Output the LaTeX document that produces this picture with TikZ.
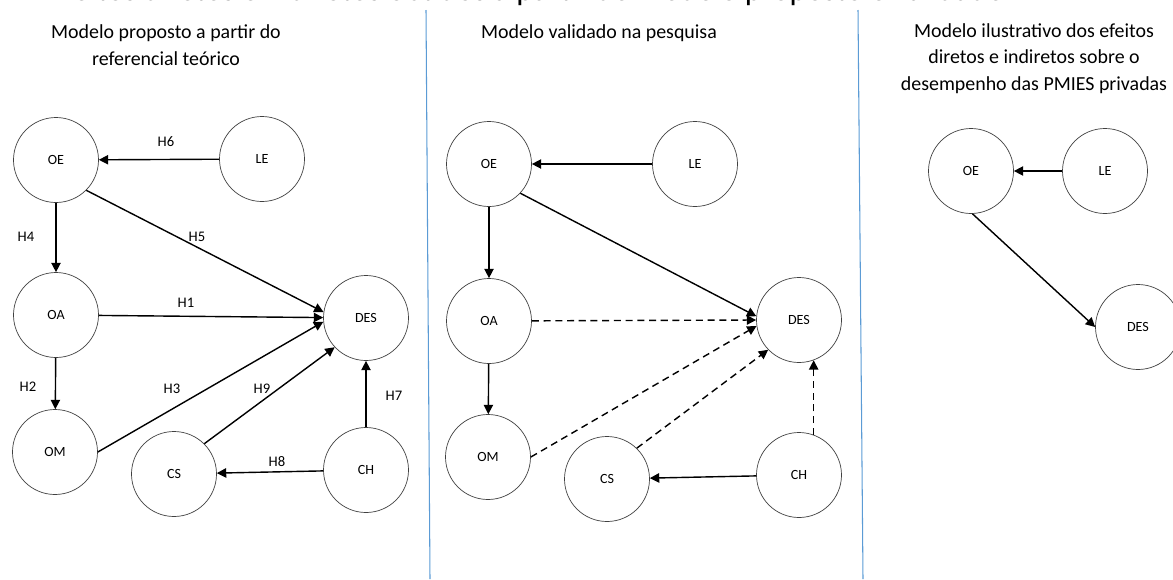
\documentclass[tikz,border=0pt]{standalone}
\usepackage{fontspec}
\setmainfont{Carlito}
\usetikzlibrary{arrows.meta}
\definecolor{sepblue}{HTML}{5B9BD5}

\begin{document}
\begin{tikzpicture}[x=0.03cm,y=-0.03cm,
    var/.style={circle,draw=black!75,line width=0.6pt,minimum size=2.55cm,inner sep=0pt,font=\fontsize{12}{14}\selectfont},
    hyp/.style={line width=1.2pt,-{Triangle[length=8pt,width=8pt]}},
    hypdash/.style={hyp,dash pattern=on 6pt off 4pt},
    hlabel/.style={font=\fontsize{12.5}{14}\selectfont},
    paneltitle/.style={align=center,anchor=base,inner sep=0pt,font=\fontsize{17}{22.2}\selectfont},
    separator/.style={draw=sepblue,line width=0.9pt}]
        \useasboundingbox (0,0) rectangle (1173,579);
        \node[anchor=base,inner sep=0pt,font=\fontsize{27.5}{32}\selectfont] (maintitle) at (527,0.5) {Efeitos diretos e indiretos obtidos a partir do modelo proposto e validado};
        \coordinate (sepa top) at (426,10);
        \coordinate (sepa bot) at (430,579);
        \coordinate (sepb top) at (858,10);
        \coordinate (sepb bot) at (863,579);
        \draw[separator] (sepa top) -- (sepa bot);
        \draw[separator] (sepb top) -- (sepb bot);

        % proposto
        \node[paneltitle] (title1) at (166,65) {Modelo proposto a partir do\\referencial teórico};
        \node[var] (OE1)  at (56,160)  {OE};
        \node[var] (LE1)  at (262,159) {LE};
        \node[var] (OA1)  at (56,315)  {OA};
        \node[var] (DES1) at (366,318) {DES};
        \node[var] (OM1)  at (55,452)  {OM};
        \node[var] (CS1)  at (174,474) {CS};
        \node[var] (CH1)  at (366,470) {CH};
        \draw[hyp] (LE1) -- (OE1);
        \draw[hyp] (OE1) -- (OA1);
        \draw[hyp] (OE1.-45) -- (DES1.172);
        \draw[hyp] (OA1) -- (DES1);
        \draw[hyp] (OA1) -- (OM1);
        \draw[hyp] (OM1.east) -- (DES1.185);
        \draw[hyp] (CS1.45) -- (DES1.223);
        \draw[hyp] (CH1) -- (DES1);
        \draw[hyp] (CH1) -- (CS1);
        \node[hlabel] (H6) at (166,142) {H6};
        \node[hlabel] (H4) at (26,237)  {H4};
        \node[hlabel] (H5) at (197,237) {H5};
        \node[hlabel] (H1) at (186,303) {H1};
        \node[hlabel] (H2) at (28,387)  {H2};
        \node[hlabel] (H3) at (172,389) {H3};
        \node[hlabel] (H9) at (262,389) {H9};
        \node[hlabel] (H7) at (394,396) {H7};
        \node[hlabel] (H8) at (277,462) {H8};

        % validado
        \node[paneltitle] (title2) at (599,38) {Modelo validado na pesquisa};
        \node[var] (OE2)  at (489,164) {OE};
        \node[var] (LE2)  at (695,164) {LE};
        \node[var] (OA2)  at (489,321) {OA};
        \node[var] (DES2) at (799,320) {DES};
        \node[var] (OM2)  at (488,457) {OM};
        \node[var] (CS2)  at (607,479) {CS};
        \node[var] (CH2)  at (799,475) {CH};
        \draw[hyp] (LE2) -- (OE2);
        \draw[hyp] (OE2) -- (OA2);
        \draw[hyp] (OE2.-43) -- (DES2.175);
        \draw[hypdash] (OA2) -- (DES2.180);
        \draw[hyp] (OA2) -- (OM2);
        \draw[hypdash] (OM2.east) -- (DES2.188);
        \draw[hypdash] (CS2.46) -- (DES2.224);
        \draw[hypdash] (CH2.70) -- (DES2.-70);
        \draw[hyp] (CH2) -- (CS2);

        % ilustrativo
        \node[paneltitle] (title3) at (1034,90) {Modelo ilustrativo dos efeitos\\diretos e indiretos sobre o\\desempenho das PMIES privadas};
        \node[var] (OE3)  at (971,171)  {OE};
        \node[var] (LE3)  at (1105,171) {LE};
        \node[var] (DES3) at (1138,327) {DES};
        \draw[hyp] (LE3) -- (OE3);
        \draw[hyp] (OE3.-88) -- (DES3.180);
\end{tikzpicture}
\end{document}
